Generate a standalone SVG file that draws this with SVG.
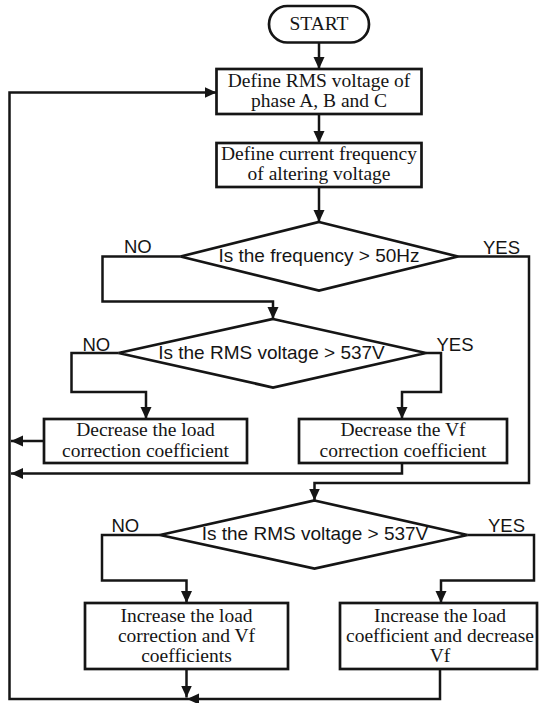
<svg xmlns="http://www.w3.org/2000/svg" width="539" height="703" viewBox="0 0 539 703">
<style>
.shape{fill:#fff;stroke:#151515;stroke-width:2.7;stroke-linejoin:miter}
.line{fill:none;stroke:#151515;stroke-width:2.5;stroke-linejoin:miter}
.serif{font-family:"Liberation Serif","Times New Roman",serif;font-size:19.5px;fill:#151515;text-anchor:middle}
.sans{font-family:"Liberation Sans",Arial,sans-serif;font-size:19px;fill:#151515}
.lbl{font-family:"Liberation Sans",Arial,sans-serif;font-size:18.5px;fill:#151515}
</style>
<defs>
<marker id="arr" viewBox="0 0 12 12" refX="12" refY="6" markerWidth="12" markerHeight="12" markerUnits="userSpaceOnUse" orient="auto">
<path d="M0,0.5 L12,6 L0,11.5 z" fill="#151515"/>
</marker>
</defs>
<rect width="539" height="703" fill="#fff"/>
<g id="connectors">
<path class="line" d="M319,42.5 V69" marker-end="url(#arr)"/>
<path class="line" d="M319,114 V143" marker-end="url(#arr)"/>
<path class="line" d="M319,187 V222" marker-end="url(#arr)"/>
<path class="line" d="M180.5,256.5 H102.5 V301.5 H273 V319" marker-end="url(#arr)"/>
<path class="line" d="M458,256.5 H529 V483 H314.5 V500.5" marker-end="url(#arr)"/>
<path class="line" d="M118.5,353 H71.5 V392 H146 V419" marker-end="url(#arr)"/>
<path class="line" d="M426,353 H441 V392 H402 V419" marker-end="url(#arr)"/>
<path class="line" d="M44,441 H11" marker-end="url(#arr)"/>
<path class="line" d="M402,463 V473.5 H11" marker-end="url(#arr)"/>
<path class="line" d="M160,535 H102 V580.5 H186.5 V603" marker-end="url(#arr)"/>
<path class="line" d="M467.5,535 H534 V580.5 H441 V603" marker-end="url(#arr)"/>
<path class="line" d="M186.5,669 V697.5" marker-end="url(#arr)"/>
<path class="line" d="M440,669 V699 H187" marker-end="url(#arr)"/>
<path class="line" d="M187,699 H9.5 V92.5 H216.5" marker-end="url(#arr)"/>
</g>
<g id="start">
<rect class="shape" x="269" y="6" width="100" height="36.5" rx="18.25"/>
<text class="serif" x="319" y="30" font-size="19">START</text>
</g>
<g id="define-rms">
<rect class="shape" x="216.5" y="69" width="205" height="45"/>
<text class="serif" x="319" y="87">Define RMS voltage of</text>
<text class="serif" x="319" y="107">phase A, B and C</text>
</g>
<g id="define-freq">
<rect class="shape" x="216.5" y="143" width="205" height="44"/>
<text class="serif" x="319" y="160">Define current frequency</text>
<text class="serif" x="319" y="180">of altering voltage</text>
</g>
<g id="decision-freq">
<polygon class="shape" points="319,222 458,256.5 319,290.5 180.5,256.5"/>
<text class="sans" x="319" y="262" text-anchor="middle">Is the frequency &gt; 50Hz</text>
<text class="lbl" x="124" y="253">NO</text>
<text class="lbl" x="483" y="254">YES</text>
</g>
<g id="decision-rms1">
<polygon class="shape" points="273,319 426,353 273,387.5 118.5,353"/>
<text class="sans" x="271.5" y="358.5" text-anchor="middle">Is the RMS voltage &gt; 537V</text>
<text class="lbl" x="82.5" y="351">NO</text>
<text class="lbl" x="436.5" y="351">YES</text>
</g>
<g id="decrease-load">
<rect class="shape" x="44" y="419" width="203" height="44"/>
<text class="serif" x="145.5" y="436">Decrease the load</text>
<text class="serif" x="145.5" y="456.5">correction coefficient</text>
</g>
<g id="decrease-vf">
<rect class="shape" x="299" y="419" width="208" height="44"/>
<text class="serif" x="403" y="436">Decrease the Vf</text>
<text class="serif" x="403" y="456.5">correction coefficient</text>
</g>
<g id="decision-rms2">
<polygon class="shape" points="314.5,500.5 467.5,535 314.5,568.5 160,535"/>
<text class="sans" x="315" y="540" text-anchor="middle">Is the RMS voltage &gt; 537V</text>
<text class="lbl" x="111.5" y="532">NO</text>
<text class="lbl" x="488" y="532">YES</text>
</g>
<g id="increase-both">
<rect class="shape" x="85" y="603" width="203" height="66"/>
<text class="serif" x="186.5" y="621.5">Increase the load</text>
<text class="serif" x="186.5" y="641.5">correction and Vf</text>
<text class="serif" x="186.5" y="661.5">coefficients</text>
</g>
<g id="increase-load-decrease-vf">
<rect class="shape" x="340" y="603" width="197" height="66"/>
<text class="serif" x="440" y="621.5">Increase the load</text>
<text class="serif" x="440" y="641.5">coefficient and decrease</text>
<text class="serif" x="440" y="661.5">Vf</text>
</g>
</svg>
